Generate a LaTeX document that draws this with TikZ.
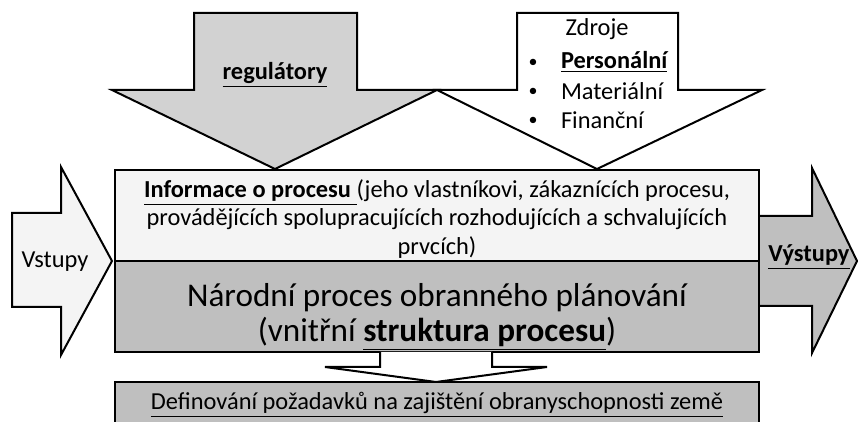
\documentclass[tikz,border=0pt]{standalone}
\usepackage{fontspec}
\setmainfont{Carlito}
\usepackage{xcolor}
\definecolor{lightfill}{HTML}{F4F4F4}
\definecolor{regfill}{HTML}{D2D2D2}
\definecolor{darkfill}{HTML}{BFBFBF}

\begin{document}
\begin{tikzpicture}[x=0.5pt, y=-0.5pt, line width=1pt, line join=miter,
        txt/.style={font=\fontsize{12.2}{14.25}\selectfont},
        bigtxt/.style={font=\fontsize{16.6}{17.5}\selectfont},
        dot/.style={font=\fontsize{9}{10}\selectfont}]
            \useasboundingbox (0, 0) rectangle (858, 422);
            \clip (0, 0) rectangle (858, 422);

            % arrows from above
            \draw[fill = regfill] (194, 13) -- (357, 13) -- (357, 90) -- (437, 90) -- (275, 169) -- (112, 90) -- (194, 90) -- cycle;
            \draw[fill = white] (517, 13) -- (678, 13) -- (678, 90) -- (762, 90) -- (597, 169) -- (437, 90) -- (517, 90) -- cycle;

            \node[txt] (reg) at (275, 75) {\textbf{\underline{regulátory}}};
            \node[txt] (zdroje) at (597, 29) {Zdroje};
            \node[dot] (bp) at (533, 63) {\textbullet};
            \node[dot] (bm) at (533, 92) {\textbullet};
            \node[dot] (bf) at (533, 121) {\textbullet};
            \node[txt, anchor = west, inner sep = 0pt] (pers) at (560, 62) {\textbf{\underline{Personální}}};
            \node[txt, anchor = west, inner sep = 0pt] (mat) at (560, 91) {Materiální};
            \node[txt, anchor = west, inner sep = 0pt] (fin) at (560, 120) {Finanční};

            % side arrows
            \draw[fill = lightfill] (12, 213) -- (61, 213) -- (61, 167) -- (112, 261) -- (61, 355) -- (61, 307) -- (12, 307) -- cycle;
            \draw[fill = darkfill] (740, 216) -- (812, 216) -- (812, 168) -- (857, 261) -- (812, 353) -- (812, 306) -- (740, 306) -- cycle;

            \node[txt] (vstupy) at (55, 262) {Vstupy};
            \node[txt] (vystupy) at (809, 257) {\textbf{\underline{Výstupy}}};

            % process box
            \draw[fill = lightfill] (115, 170) rectangle (759, 261);
            \draw[fill = darkfill] (115, 261) rectangle (759, 352);

            \node[txt, align = center] (info) at (437, 219) {\underline{\textbf{Informace o procesu }}(jeho vlastníkovi, zákaznících procesu,\\ provádějících spolupracujících rozhodujících a schvalujících\\ prvcích)};
            \node[bigtxt, align = center] (proces) at (437, 317) {Národní proces obranného plánování\\ (vnitřní \underline{\textbf{struktura procesu}})};

            % output box
            \draw[fill = white] (380, 352) -- (380, 367) -- (325, 367) -- (436, 382) -- (547, 367) -- (492, 367) -- (492, 352);
            \fill[darkfill] (115, 382) rectangle (759, 430);
            \draw (115, 430) -- (115, 382) -- (759, 382) -- (759, 430);

            \node[txt] (def) at (437, 405) {\underline{Definování požadavků na zajištění obranyschopnosti země}};
        \end{tikzpicture}
\end{document}
